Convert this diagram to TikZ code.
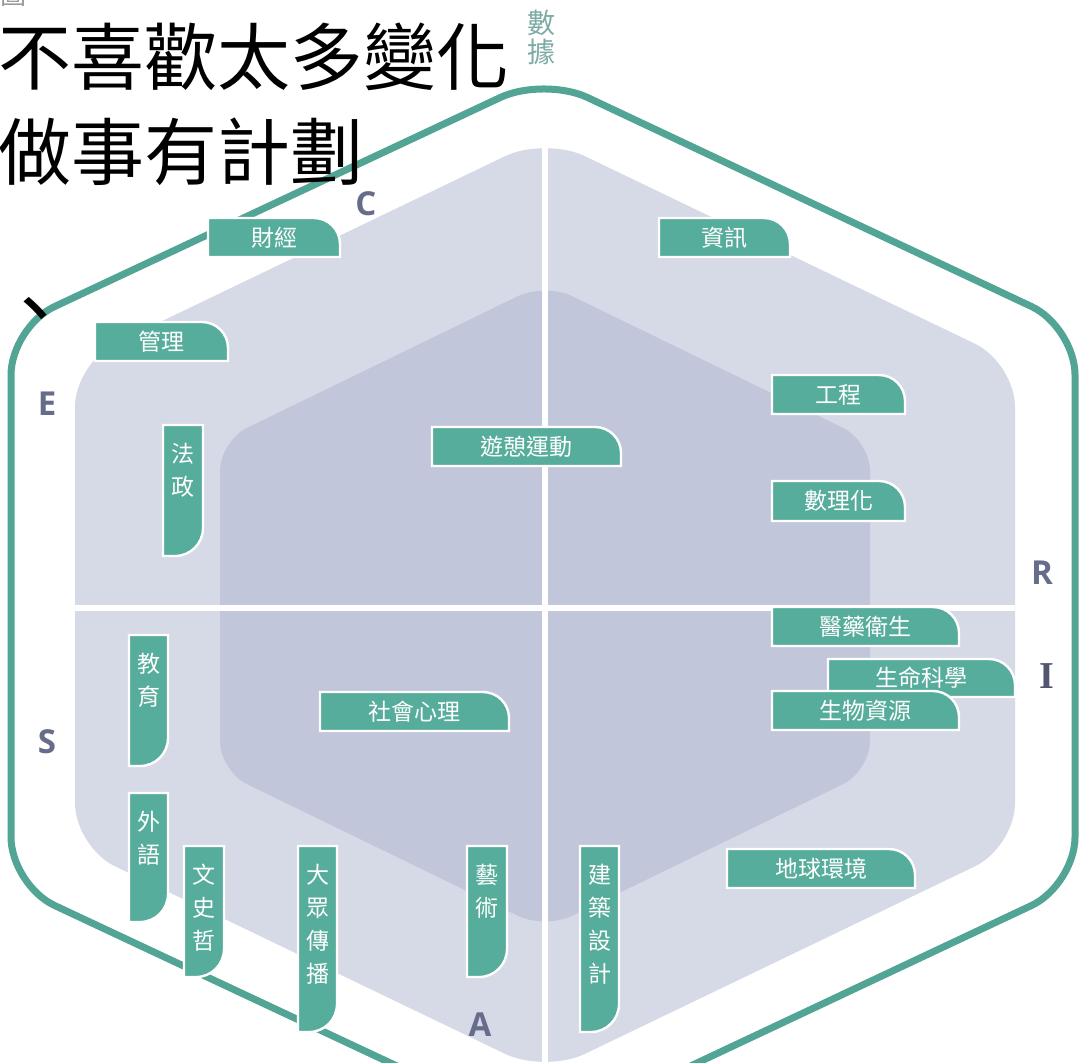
\documentclass[tikz,border=0pt]{standalone}
\usepackage{tikz}
\usepackage{fontspec}
\newfontfamily\cjk{Noto Sans CJK TC}
\newfontfamily\labfont{Open Sans}
\newfontfamily\serfont{Liberation Serif}
\definecolor{tealline}{HTML}{52A494}
\definecolor{tagfill}{HTML}{57AD9C}
\definecolor{layerA}{HTML}{D6D9E6}
\definecolor{layerB}{HTML}{C2C6DA}
\definecolor{labcol}{HTML}{676C8A}
\definecolor{datacol}{HTML}{7DAAA5}
\definecolor{iconcol}{HTML}{9A9A9A}

\tikzset{
  tagshape/.style={fill=tagfill, draw=white, line width=1.2pt},
  tagtext/.style={text=white, inner sep=0pt, font=\cjk\fontsize{11.5}{14}\selectfont},
  vtagtext/.style={text=white, inner sep=0pt, anchor=north, align=center, font=\cjk\fontsize{11.5}{16.5}\selectfont},
  axislab/.style={text=labcol, inner sep=0pt, font=\labfont\bfseries\fontsize{16.5}{18}\selectfont},
  bigtext/.style={text=black, inner sep=0pt, anchor=west, font=\cjk\fontsize{36.5}{40}\selectfont},
  divider/.style={draw=white, line width=3pt},
}

% horizontal tag: name, x1, y1, x2, y2, text  (top-right corner rounded)
\newcommand{\htag}[6]{%
  \path[tagshape] (#2,#5) -- (#2,#3) -- ({#4-26},#3)
    .. controls ({#4-11.6},#3) and (#4,{#3+11.6}) .. (#4,{#3+26}) -- (#4,#5) -- cycle;
  \node[tagtext] (#1) at ({(#2+#4)/2},{(#3+#5)/2}) {#6};}
% vertical tag: name, x1, y1, x2, y2, text (bottom-right corner rounded)
\newcommand{\vtag}[6]{%
  \path[tagshape] (#2,#3) -- (#4,#3) -- (#4,{#5-28})
    .. controls (#4,{#5-12.5}) and ({#4-12.5},#5) .. ({#4-28},#5) -- (#2,#5) -- cycle;
  \node[vtagtext] (#1) at ({(#2+#4)/2},{#3+18}) {#6};}

\begin{document}
\begin{tikzpicture}[x=0.5pt,y=-0.5pt]
\useasboundingbox (0,0) rectangle (1079,1062);
\clip (0,0) rectangle (1079,1062);
\fill[white] (0,0) rectangle (1079,1062);

% middle (light) layer
\fill[layerA, rounded corners=22pt]
  (75,605) -- (75,363) -- (545,137) -- (1015,363) -- (1015,847) -- (545,1073) -- (75,847) -- cycle;
% inner (darker) layer
\fill[layerB, rounded corners=15pt]
  (220,606) -- (220,441) -- (545,283) -- (870,441) -- (870,771) -- (545,929) -- (220,771) -- cycle;
% white dividing cross
\begin{scope}
  \clip[rounded corners=22pt]
    (75,605) -- (75,363) -- (545,137) -- (1015,363) -- (1015,847) -- (545,1073) -- (75,847) -- cycle;
  \draw[divider] (545,100) -- (545,1100);
  \draw[divider] (0,608) -- (1079,608);
\end{scope}

% outer teal hexagon outline
\draw[tealline, line width=3.5pt, rounded corners=24pt]
  (11,606) -- (11,327) -- (544,77) -- (1075,327) -- (1075,885) -- (544,1135) -- (11,885) -- cycle;

% horizontal tags
\htag{caijing}{208}{218}{340}{257}{財經}
\htag{zixun}{659}{218}{790}{257}{資訊}
\htag{guanli}{95}{322}{228}{361}{管理}
\htag{gongcheng}{772}{375}{905}{414}{工程}
\htag{youqi}{432}{427}{621}{466}{遊憩運動}
\htag{shulihua}{772}{481}{905}{521}{數理化}
\htag{yiyao}{772}{607}{959}{646}{醫藥衛生}
\htag{shengming}{828}{659}{1015}{697}{生命科學}
\htag{shengwu}{772}{691}{959}{730}{生物資源}
\htag{shehui}{320}{692}{509}{731}{社會心理}
\htag{diqiu}{727}{849}{915}{888}{地球環境}

% vertical tags
\vtag{fazheng}{163}{425}{203}{556}{法\\政}
\vtag{jiaoyu}{129}{635}{168}{766}{教\\育}
\vtag{waiyu}{129}{793}{168}{922}{外\\語}
\vtag{wenshizhe}{184}{846}{224}{977}{文\\史\\哲}
\vtag{dazhong}{298}{846}{337}{1032}{大\\眾\\傳\\播}
\vtag{yishu}{467}{846}{507}{977}{藝\\術}
\vtag{jianzhu}{580}{846}{619}{1032}{建\\築\\設\\計}

% axis letters
\node[axislab] (labC) at (366,204) {C};
\node[axislab] (labE) at (47,404) {E};
\node[axislab] (labS) at (47,742) {S};
\node[axislab] (labR) at (1042,573) {R};
\node[text=labcol!80!black, inner sep=0pt, font=\serfont\bfseries\fontsize{19}{20}\selectfont] (labI) at (1047,676) {I};
\node[axislab] (labA) at (480,1025) {A};

% data label
\node[text=datacol, inner sep=0pt, align=center, font=\cjk\fontsize{14}{14.5}\selectfont] (data) at (541,37) {數\\據};

% overlay text
\node[text=iconcol, inner sep=0pt, font=\cjk\fontsize{13}{14}\selectfont] (icon) at (13,-5) {圖};
\node[bigtext] (line1) at (-2,57) {不喜歡太多變化};
\node[bigtext] (line2) at (-2,152) {做事有計劃};
\node[text=black, inner sep=0pt, font=\cjk\fontsize{40}{44}\selectfont] (comma) at (36,318) {、};
\end{tikzpicture}
\end{document}
